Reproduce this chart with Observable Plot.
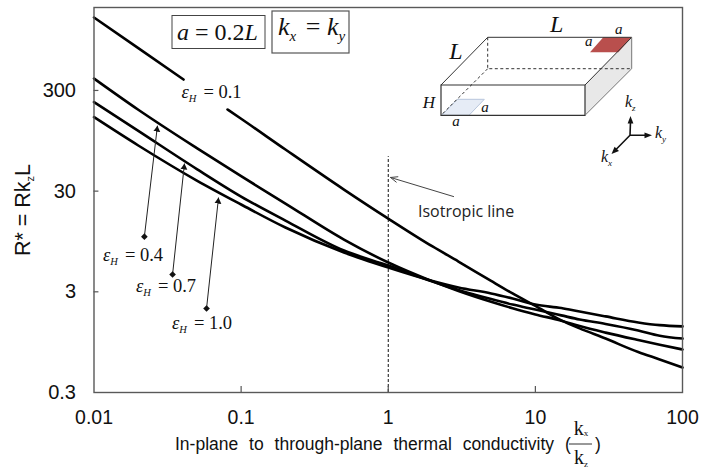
<!DOCTYPE html>
<html>
<head>
<meta charset="utf-8">
<script src="https://cdn.jsdelivr.net/npm/d3@7"></script>
<script src="https://cdn.jsdelivr.net/npm/@observablehq/plot@0.6"></script>
<style>
html,body{margin:0;padding:0;background:#fff;overflow:hidden}
svg{display:block}
</style>
</head>
<body>
<div id="chart"></div>
<script>
// Shared in-plane / through-plane conductivity ratio
const kRatio = [0.01,0.02,0.05,0.1,0.2,0.5,1,2,3,5,7,10,15,20,30,50,70,100];
// R* per curve
const rEps04 = [394,193,80.2,42.2,22.6,9.91,5.86,3.81,3.06,2.39,2.06,1.79,1.55,1.37,1.18,0.996,0.895,0.802];
const rEps07 = [230,119,49.7,26.5,15.3,7.71,5.47,3.80,3.13,2.54,2.24,2.00,1.75,1.59,1.44,1.24,1.10,1.03];
const rEps10 = [163,85.2,38.2,22.1,13.05,7.37,5.22,3.84,3.31,2.89,2.57,2.24,2.07,1.91,1.71,1.49,1.40,1.36];
// The 0.1 curve is interrupted behind its label (null = gap)
const kEps01 = [0.01,0.02,0.0406,0.06,0.0808,0.1,0.2,0.5,1,2,3,5,7,10,15,20,30,50,70,100];
const rEps01 = [1590,791,385,null,194,157,77.7,31.1,16.0,8.46,6.0,3.85,2.89,2.17,1.56,1.30,1.03,0.757,0.639,0.531];

const xTicks = [0.01,0.1,1,10,100];
const yTicks = [0.3,3,30,300];
const xInner = [0.1,1,10];
const yInner = [3,30,300];

// Callout arrows (diamond -> curve)
const calloutFromK = [0.0220,0.0342,0.0582];
const calloutFromR = [10.6,4.46,2.05];
const calloutToK = [0.0270,0.0412,0.0702];
const calloutToR = [134,56.4,25.9];

const isoK = [1];
const isoTop = 66;
const isoArrow = [{k1:2.78,r1:26.5,k2:1.037,r2:41}];

const series = (k, r) => k.map((x,i)=>({k:x, r:r[i]}));
const callouts = calloutFromK.map((_,i)=>({k1:calloutFromK[i],r1:calloutFromR[i],k2:calloutToK[i],r2:calloutToR[i]}));

function filledHead(color){
  const m = d3.create("svg:marker")
    .attr("viewBox","-6 -4 7 8").attr("markerWidth",7).attr("markerHeight",8)
    .attr("markerUnits","userSpaceOnUse").attr("orient","auto");
  m.append("path").attr("d","M-6,-3.5L0,0L-6,3.5Z").attr("fill","#111").attr("stroke","none");
  return m.node();
}

const serif = "'Liberation Serif',serif";
const eps = (x,y,v)=>`<text x="${x}" y="${y}" font-family="${serif}" font-size="18.5" fill="#111"><tspan font-style="italic">ε</tspan><tspan font-style="italic" font-size="10.5" dy="4">H</tspan><tspan dy="-4" dx="7">= ${v}</tspan></text>`;
const kk = (x,y,s,fs,ss)=>`<text x="${x}" y="${y}" font-family="${serif}" font-style="italic" font-size="${fs}" fill="#111">k<tspan font-size="${ss}" dy="${fs*0.25}">${s}</tspan></text>`;
const it = (x,y,t,fs)=>`<text x="${x}" y="${y}" font-family="${serif}" font-style="italic" font-size="${fs}" fill="#111" text-anchor="middle">${t}</text>`;

const overlay = `
<g text-anchor="start">
  <rect x="172" y="15.5" width="93" height="33" fill="#fff" stroke="#444" stroke-width="1"/>
  <text x="177" y="40" font-family="${serif}" font-size="24" fill="#111"><tspan font-style="italic">a</tspan> = 0.2<tspan font-style="italic">L</tspan></text>
  <rect x="272" y="11" width="77" height="42" fill="#fff" stroke="#555" stroke-width="1.2"/>
  <text x="278" y="35" font-family="${serif}" font-size="26" fill="#111"><tspan font-style="italic">k</tspan><tspan font-style="italic" font-size="15" dy="6">x</tspan><tspan dy="-6" dx="3"> = </tspan><tspan font-style="italic">k</tspan><tspan font-style="italic" font-size="15" dy="6">y</tspan></text>

  <polygon points="585,85 631.7,37.3 631.7,68.7 585,115.3" fill="#e8e8e8"/>
  <polygon points="603.3,37.3 631.7,37.3 618.3,52.3 590,52.3" fill="#b94f4d"/>
  <polygon points="441.7,115.3 469,115.3 484.3,99.3 457.3,99.3" fill="#e6ecf6" stroke="#b8c6dc"/>
  <g fill="none" stroke="#333" stroke-width="1">
    <path d="M441,85L585,85L585,115.3L441,115.3Z" stroke-width="1.2"/>
    <path d="M441,85L487.7,37.3L631.7,37.3L585,85"/>
    <path d="M631.7,37.3L631.7,68.7L585,115.3" stroke="#777"/>
    <path d="M487.7,37.3L487.7,68.7L631.7,68.7M487.7,68.7L441,115.3" stroke-dasharray="3,2.5"/>
  </g>
  ${it(556.7,32,"L",24)}${it(456,59,"L",24)}${it(429,108,"H",17)}
  ${it(456,126,"a",15)}${it(485,112,"a",15)}${it(588.7,46,"a",15)}${it(618.7,33.5,"a",15)}
  <g stroke="#111" fill="#111">
    <path d="M630,135.3L630.5,122M630,135.3L646,135.3M630,135.3L615,150.5" stroke-width="1.6" fill="none"/>
    <path d="M630.5,116L627.6,123.5L633.4,123.5Z" stroke="none"/>
    <path d="M652,135.3L644.5,132.4L644.5,138.2Z" stroke="none"/>
    <path d="M611.5,154L614.6,146.7L619,151Z" stroke="none"/>
  </g>
  ${kk(625,106.7,"z",16,9)}${kk(655,138,"y",16,9)}${kk(601,162,"x",16,9)}

  ${eps(181.5,98,"0.1")}${eps(103,261,"0.4")}${eps(136,292,"0.7")}${eps(172,329,"1.0")}

  <text x="418" y="217" font-family="'Open Sans',sans-serif" font-size="16" fill="#222">Isotropic line</text>

  <text transform="translate(29.5,210) rotate(-90)" text-anchor="middle" font-family="'Liberation Sans',sans-serif" font-size="21.5" fill="#111">R* = Rk<tspan font-size="11" dy="4">z</tspan><tspan dy="-4">L</tspan></text>

  <text x="175" y="450" font-family="'Liberation Sans',sans-serif" font-size="17.5" word-spacing="6" fill="#111">In-plane to through-plane thermal conductivity (</text>
  <text x="581" y="435" text-anchor="middle" font-family="${serif}" font-size="20" fill="#111">k<tspan font-size="9" dy="1">x</tspan></text>
  <path d="M569,444H592" stroke="#333" stroke-width="1"/>
  <text x="581" y="464" text-anchor="middle" font-family="${serif}" font-size="20" fill="#111">k<tspan font-size="9" dy="3">z</tspan></text>
  <text x="595" y="450" font-family="'Liberation Sans',sans-serif" font-size="17.5" fill="#111">)</text>
</g>`;

function annotations(){
  const g = document.createElementNS("http://www.w3.org/2000/svg","g");
  g.innerHTML = overlay;
  return g;
}

const lineOpts = {x:"k", y:"r", stroke:"#000", strokeWidth:2.6, curve:"monotone-x"};

const chart = Plot.plot({
  width:717, height:472,
  marginLeft:93.5, marginRight:35, marginTop:7, marginBottom:80,
  style:{fontFamily:"'Liberation Sans',Arial,sans-serif", background:"#fff", color:"#111"},
  x:{type:"log", domain:[0.01,100], label:null},
  y:{type:"log", domain:[0.3,2000], label:null, axis:null},
  marks:[
    Plot.ruleX(isoK,{y1:0.3,y2:isoTop,stroke:"#111",strokeWidth:1,strokeDasharray:"3,2"}),
    Plot.line(series(kEps01,rEps01),lineOpts),
    Plot.line(series(kRatio,rEps04),lineOpts),
    Plot.line(series(kRatio,rEps07),lineOpts),
    Plot.line(series(kRatio,rEps10),lineOpts),
    Plot.link(callouts,{x1:"k1",y1:"r1",x2:"k2",y2:"r2",stroke:"#222",strokeWidth:1,markerEnd:filledHead}),
    Plot.dot(callouts,{x:"k1",y:"r1",symbol:"diamond2",r:3,fill:"#111",stroke:"none"}),
    Plot.arrow(isoArrow,{x1:"k1",y1:"r1",x2:"k2",y2:"r2",bend:0,stroke:"#444",strokeWidth:1,headLength:11,headAngle:45}),
    Plot.ruleX(xInner,{y1:0.3,y2:0.344,stroke:"#555",strokeWidth:1.2}),
    Plot.ruleY(yInner,{x1:0.01,x2:0.0108,stroke:"#555",strokeWidth:1.2}),
    Plot.frame({stroke:"#595959",strokeWidth:1.4}),
    Plot.axisX({ticks:xTicks,tickFormat:String,tickSize:0,tickPadding:17.5,fontSize:19.5,label:null}),
    Plot.text(yTicks,{x:()=>0.01,y:d=>d,text:String,textAnchor:"end",dx:-18,fontSize:20,fill:"#111"}),
    annotations
  ]
});
document.getElementById("chart").appendChild(chart);
</script>
</body>
</html>
